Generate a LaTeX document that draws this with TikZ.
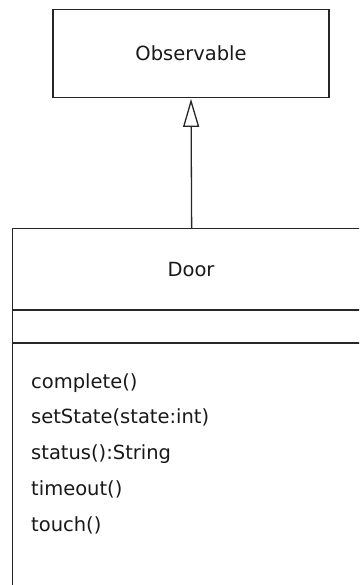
\documentclass[tikz,border=0pt]{standalone}
\usepackage{fontspec}
\setmainfont{DejaVu Sans}
\usetikzlibrary{positioning,arrows.meta}

\tikzset{
  umlbox/.style={draw=black!85, line width=1.3pt, fill=white},
  umlline/.style={draw=black!85, line width=1.3pt},
}

\begin{document}
\begin{tikzpicture}[x=1pt, y=-1pt, font=\fontsize{19.5}{23}\selectfont, text=black!90]
    \useasboundingbox (0,0) rectangle (359,585);
    \clip (0,0) rectangle (359,585);
    % superclass
    \node[umlbox, minimum width=276pt, minimum height=87.5pt] (observable) at (191,53.5) {Observable};
    % subclass runs off the page at right and bottom
    \node[umlbox, anchor=north west, minimum width=358pt, minimum height=380pt] (door) at (12,228) {};
    \node (doorname) at (191,269.5) {Door};
    \draw[umlline] (door.west |- 0,310) -- (door.east |- 0,310);
    \draw[umlline] (door.west |- 0,343) -- (door.east |- 0,343);
    \foreach \m [count=\i] in {
      complete(), setState(state:int), status():String, timeout(), touch()
    }{
      \node[anchor=base west, inner sep=0pt] (method\i) at (31,{388+35.8*(\i-1)}) {\m};
    }
    % generalization
    \draw[umlline, -{Triangle[open, length=28pt, width=16pt]}, shorten >=1pt]
      (door.north) -- (observable.south);
  \end{tikzpicture}
\end{document}
